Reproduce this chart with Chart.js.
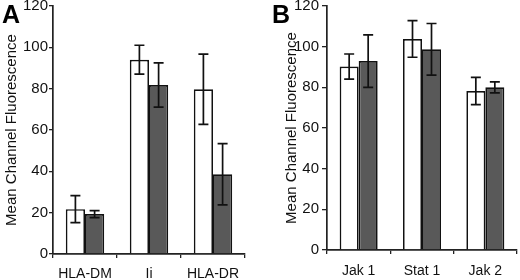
<!DOCTYPE html>
<html>
<head>
<meta charset="utf-8">
<script src="https://cdn.jsdelivr.net/npm/chart.js@4/dist/chart.umd.min.js"></script>
<style>
  html, body { margin: 0; padding: 0; background: #fff; }
  body { width: 520px; height: 280px; position: relative; overflow: hidden; font-family: "Liberation Sans", Arial, sans-serif; }
  .wrap { position: absolute; top: 0; height: 280px; }
  #wrapA { left: 0; width: 250px; }
  #wrapB { left: 260px; width: 260px; }
  .panel { position: absolute; top: 2px; font-weight: bold; font-size: 25px; line-height: 25px; color: #000; }
  #letA { left: 2px; }
  #letB { left: 272px; }
</style>
</head>
<body>
<div id="wrapA" class="wrap"><canvas id="chartA" width="250" height="280"></canvas></div>
<div id="wrapB" class="wrap"><canvas id="chartB" width="260" height="280"></canvas></div>
<div id="letA" class="panel">A</div>
<div id="letB" class="panel">B</div>
<script>
// ---- Data ----
const categoriesA = ["HLA-DM", "Ii", "HLA-DR"];
const openA   = [21.7, 94.0, 79.7];   // white bars
const openErrA = [6.5, 7.0, 17.0];
const filledA = [19.3, 81.8, 38.6];   // grey bars
const filledErrA = [1.7, 10.7, 14.8];

const categoriesB = ["Jak 1", "Stat 1", "Jak 2"];
const openB   = [90.2, 103.8, 78.2];
const openErrB = [6.2, 9.0, 6.7];
const filledB = [92.9, 98.7, 80.0];
const filledErrB = [12.9, 12.7, 2.7];

const yTicks = [0, 20, 40, 60, 80, 100, 120];
const yTitle = "Mean Channel Fluorescence";

// ---- Error bar plugin (uses the library's scales) ----
const errorBars = {
  id: 'errorBars',
  afterDatasetsDraw(chart) {
    const ctx = chart.ctx;
    const y = chart.scales.y;
    ctx.save();
    ctx.strokeStyle = '#111';
    ctx.lineWidth = 1.7;
    chart.data.datasets.forEach((ds, di) => {
      const meta = chart.getDatasetMeta(di);
      meta.data.forEach((bar, i) => {
        const v = ds.data[i], e = ds.errors[i];
        const x = bar.x;
        const yt = y.getPixelForValue(v + e);
        const yb = y.getPixelForValue(v - e);
        const cap = 5;
        ctx.beginPath();
        ctx.moveTo(x, yt); ctx.lineTo(x, yb);
        ctx.moveTo(x - cap, yt); ctx.lineTo(x + cap, yt);
        ctx.moveTo(x - cap, yb); ctx.lineTo(x + cap, yb);
        ctx.stroke();
      });
    });
    ctx.restore();
  }
};

const FONT = '"Liberation Sans", Arial, sans-serif';

function makeChart(id, cats, open, openErr, filled, filledErr, cfg) {
  return new Chart(document.getElementById(id), {
    type: 'bar',
    data: {
      labels: cats,
      datasets: [
        { data: open, errors: openErr, backgroundColor: '#ffffff', borderColor: '#111', borderWidth: 1.7,
          categoryPercentage: 0.6, barPercentage: 1.0 },
        { data: filled, errors: filledErr, backgroundColor: '#595959', borderColor: '#111', borderWidth: 1.7,
          categoryPercentage: 0.6, barPercentage: 1.0 }
      ]
    },
    options: {
      responsive: false,
      animation: false,
      events: [],
      layout: { padding: { top: 6, right: cfg.padRight, left: 0, bottom: 0 } },
      plugins: { legend: { display: false }, tooltip: { enabled: false }, title: { display: false } },
      scales: {
        x: {
          grid: { display: true, drawOnChartArea: false, drawTicks: true, tickLength: 4, color: '#222', lineWidth: 1.3, offset: true },
          border: { display: true, color: '#222', width: 1.7 },
          ticks: { color: '#111', font: { family: FONT, size: 14 }, padding: cfg.xPad, maxRotation: 0 },
          afterFit: s => { s.height = cfg.xHeight; }
        },
        y: {
          min: 0, max: 120,
          afterBuildTicks: s => { s.ticks = yTicks.map(v => ({ value: v })); },
          grid: { display: true, drawOnChartArea: false, drawTicks: true, tickLength: cfg.tickLen, color: '#222', lineWidth: 1.3 },
          border: { display: true, color: '#222', width: 1.7 },
          ticks: { color: '#111', font: { family: FONT, size: 15 }, padding: cfg.yPad },
          title: { display: true, text: yTitle, color: '#111',
                   font: { family: FONT, size: 15 },
                   padding: { top: cfg.titlePad, bottom: 0 } },
          afterFit: s => { s.width = cfg.yWidth; s.paddingTop = 0; s.paddingBottom = 0; }
        }
      }
    },
    plugins: [errorBars]
  });
}

makeChart('chartA', categoriesA, openA, openErrA, filledA, filledErrA,
  { padRight: 5, xPad: 8, xHeight: 26, tickLen: 4, yPad: 1, yWidth: 53, titlePad: 3 });
makeChart('chartB', categoriesB, openB, openErrB, filledB, filledErrB,
  { padRight: 3, xPad: 9, xHeight: 30, tickLen: 5, yPad: 3, yWidth: 67, titlePad: 23 });
</script>
</body>
</html>
